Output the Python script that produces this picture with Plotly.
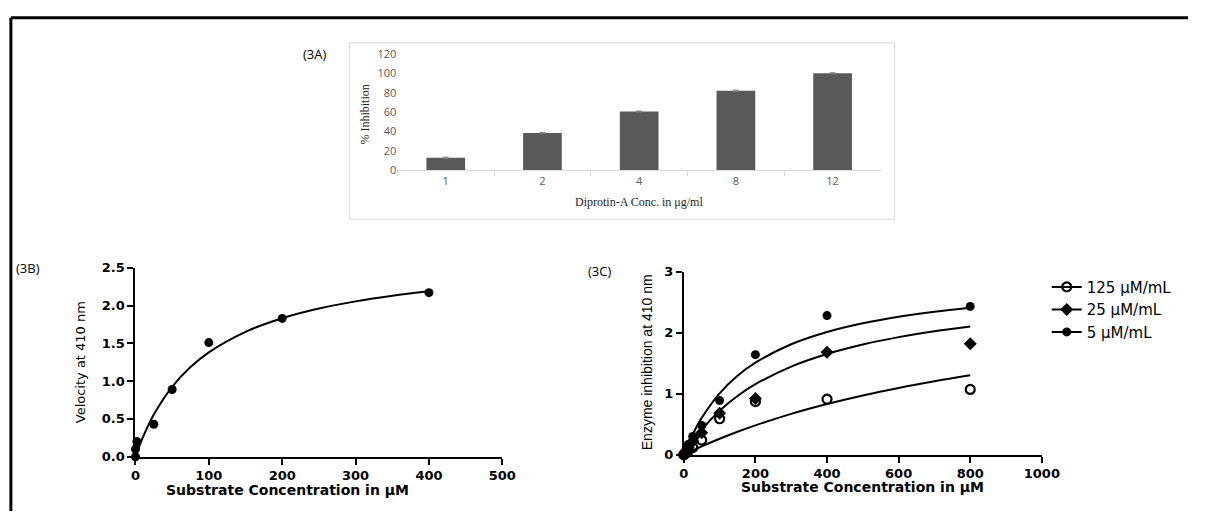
import plotly.graph_objects as go

W, H = 1206, 519

# ---------- (3A) data ----------
conc_labels = ["1", "2", "4", "8", "12"]
inhibition = [13.0, 38.5, 60.5, 82.0, 100.0]
inhibition_err = [0.6, 0.4, 0.6, 0.6, 0.5]

# ---------- (3B) data ----------
s_b = [0, 0, 2, 25, 50, 100, 200, 400]
v_b = [0.0, 0.1, 0.2, 0.43, 0.89, 1.51, 1.83, 2.17]
fit_x_b = [0, 5, 10, 25, 50, 75, 100, 150, 200, 250, 300, 350, 400]
fit_y_b = [0.0, 0.133, 0.254, 0.557, 0.925, 1.186, 1.381, 1.652, 1.832, 1.960, 2.055, 2.130, 2.189]

# ---------- (3C) data ----------
s_c = [0, 6.25, 12.5, 25, 50, 100, 200, 400, 800]
inh_125 = [0.0, 0.03, 0.06, 0.12, 0.24, 0.59, 0.87, 0.91, 1.07]
inh_25 = [0.0, 0.06, 0.12, 0.22, 0.36, 0.68, 0.92, 1.68, 1.82]
inh_5 = [0.02, 0.08, 0.17, 0.30, 0.48, 0.89, 1.64, 2.28, 2.43]
fit_x_c = [0, 10, 25, 50, 100, 150, 200, 300, 400, 500, 600, 700, 800]
fit_125 = [0, 0.028, 0.070, 0.137, 0.262, 0.377, 0.482, 0.670, 0.831, 0.972, 1.095, 1.204, 1.302]
fit_25 = [0, 0.093, 0.222, 0.413, 0.723, 0.963, 1.156, 1.445, 1.651, 1.806, 1.927, 2.023, 2.102]
fit_5 = [0, 0.144, 0.336, 0.604, 1.007, 1.294, 1.509, 1.810, 2.010, 2.153, 2.260, 2.344, 2.410]
legend_names = ["125 μM/mL", "25 μM/mL", "5 μM/mL"]


def px(x):
    return x / W


def py(y):
    return 1 - y / H


fig = go.Figure()

# (3A) bars
fig.add_trace(go.Bar(
    x=conc_labels, y=inhibition, marker=dict(color="#595959", line=dict(width=0)),
    error_y=dict(type="data", array=inhibition_err, color="#7f7f7f", thickness=1, width=3),
    xaxis="x", yaxis="y", showlegend=False,
))

# (3B)
fig.add_trace(go.Scatter(
    x=fit_x_b, y=fit_y_b, mode="lines", line=dict(color="black", width=2, shape="spline"),
    xaxis="x2", yaxis="y2", showlegend=False, cliponaxis=False,
))
fig.add_trace(go.Scatter(
    x=s_b, y=v_b, mode="markers", marker=dict(color="black", size=9, symbol="circle"),
    xaxis="x2", yaxis="y2", showlegend=False, cliponaxis=False,
))

# (3C) fits
for fy in (fit_125, fit_25, fit_5):
    fig.add_trace(go.Scatter(
        x=fit_x_c, y=fy, mode="lines", line=dict(color="black", width=2, shape="spline"),
        xaxis="x3", yaxis="y3", showlegend=False, cliponaxis=False,
    ))

symbols = ["circle-open", "diamond", "circle"]
sizes = [9, 10, 9]
for name, vals, sym, sz in zip(legend_names, (inh_125, inh_25, inh_5), symbols, sizes):
    mline = dict(color="black", width=2.2 if "open" in sym else 0)
    fig.add_trace(go.Scatter(
        x=s_c, y=vals, mode="markers",
        marker=dict(color="black", size=sz, symbol=sym, line=mline),
        xaxis="x3", yaxis="y3", showlegend=False, cliponaxis=False,
    ))
    # legend entries (line + marker)
    fig.add_trace(go.Scatter(
        x=[None], y=[None], mode="lines+markers", name=name,
        line=dict(color="black", width=2),
        marker=dict(color="black", size=sz, symbol=sym, line=mline),
        xaxis="x3", yaxis="y3", showlegend=True,
    ))

tick_font_b = dict(family="DejaVu Sans", size=13, color="black", weight="bold")
axis_common = dict(showline=True, linecolor="black", linewidth=2, ticks="outside", ticklen=6,
                   tickwidth=2, tickcolor="black", tickfont=tick_font_b, showgrid=False, zeroline=False)

fig.update_layout(
    width=W, height=H, margin=dict(l=0, r=0, t=0, b=0),
    paper_bgcolor="white", plot_bgcolor="rgba(0,0,0,0)",
    bargap=0.6,
    xaxis=dict(domain=[px(400), px(893)], type="category", showline=True, linecolor="#d9d9d9",
               linewidth=1, ticks="outside", tickson="boundaries", ticklen=5, tickcolor="#d9d9d9",
               tickfont=dict(family="Open Sans", size=11, color="#595959"), showgrid=False,
               zeroline=False, anchor="y"),
    yaxis=dict(domain=[py(167.5), py(47.3)], range=[0, 120], tickvals=[0, 20, 40, 60, 80, 100, 120],
               showline=False, ticks="", showgrid=False, zeroline=False,
               tickfont=dict(family="Open Sans", size=11, color="#595959"), anchor="x"),
    xaxis2=dict(domain=[px(133), px(507)], range=[0, 500], tickvals=[0, 100, 200, 300, 400, 500],
                anchor="y2", **axis_common),
    yaxis2=dict(domain=[py(463), py(268)], range=[0, 2.5], tickvals=[0, 0.5, 1.0, 1.5, 2.0, 2.5],
                ticktext=["0.0", "0.5", "1.0", "1.5", "2.0", "2.5"], anchor="x2", **axis_common),
    xaxis3=dict(domain=[px(692), px(1057)], range=[0, 1000], tickvals=[0, 200, 400, 600, 800, 1000],
                anchor="y3", **axis_common),
    yaxis3=dict(domain=[py(461), py(272)], range=[0, 3], tickvals=[0, 1, 2, 3],
                anchor="x3", **axis_common),
    legend=dict(x=px(1062), y=py(271), xanchor="left", yanchor="top",
                font=dict(family="DejaVu Sans", size=15, color="black"),
                bgcolor="rgba(0,0,0,0)", tracegroupgap=0, itemwidth=30),
    shapes=[
        dict(type="rect", xref="paper", yref="paper", x0=px(351), x1=px(907), y0=py(218), y1=py(36),
             line=dict(color="#d9d9d9", width=1)),
        dict(type="line", xref="paper", yref="paper", x0=px(6), x1=1, y0=py(10), y1=py(10),
             line=dict(color="black", width=3)),
        dict(type="line", xref="paper", yref="paper", x0=px(6), x1=px(6), y0=0, y1=py(10),
             line=dict(color="black", width=3)),
    ],
)

ann = []


def text(x, y, s, font, angle=0, xanchor="center"):
    ann.append(dict(x=px(x), y=py(y), xref="paper", yref="paper", text=s, showarrow=False,
                    font=font, textangle=angle, xanchor=xanchor, yanchor="middle"))


label_font = dict(family="Open Sans", size=13, color="black")
text(302, 47, "(3A)", label_font, xanchor="left")
text(9, 268, "(3B)", label_font, xanchor="left")
text(592, 271, "(3C)", label_font, xanchor="left")

text(367, 110, "% Inhibition", dict(family="Liberation Serif", size=12, color="#262626"), angle=-90)
text(646, 200, "Diprotin-A Conc. in μg/ml", dict(family="Liberation Serif", size=12, color="#262626"))

xt_font = dict(family="DejaVu Sans", size=14, color="black", weight="bold")
text(288, 497, "Substrate Concentration in μM", xt_font)
text(874, 494, "Substrate Concentration in μM", xt_font)
text(77, 366, "Velocity at 410 nm", dict(family="DejaVu Sans", size=13, color="black"), angle=-90)
text(654, 366, "Enzyme inhibition at 410 nm", dict(family="Liberation Sans", size=14, color="black"), angle=-90)

fig.update_layout(annotations=ann)
fig.write_html("out.html")
